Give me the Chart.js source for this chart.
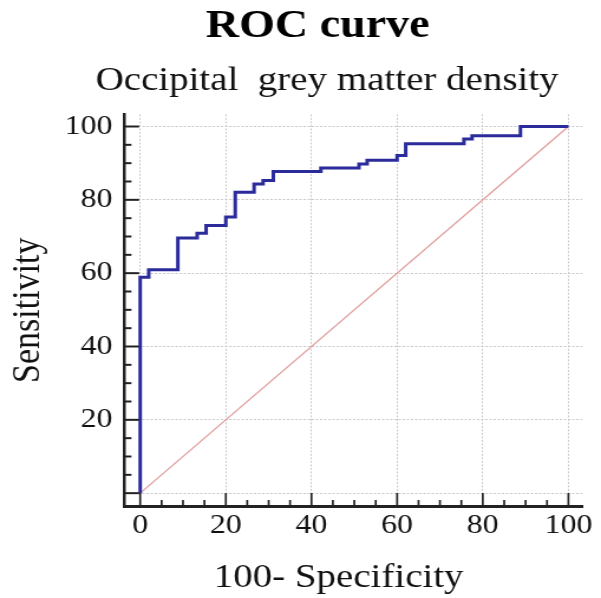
<!DOCTYPE html>
<html>
<head>
<meta charset="utf-8">
<script src="https://cdn.jsdelivr.net/npm/chart.js@4"></script>
<style>
  html, body { margin: 0; padding: 0; background: #fff; }
  #rocChart { display: block; }
</style>
</head>
<body>
<!-- the reference is a horizontally stretched picture, so the canvas is stretched too -->
<canvas id="rocChart" width="509" height="598" style="width: 601px; height: 598px;"></canvas>
<script>
// ROC curve data (100-Specificity vs Sensitivity)
const fpr = [0, 0, 2.0, 8.8, 13.3, 15.4, 20.0, 22.2, 26.6, 28.7, 31.1, 42.2, 51.1, 53.0, 60.0, 62.0, 75.6, 77.5, 88.8, 100];
const sens = [0, 58.9, 60.9, 69.6, 70.9, 73.0, 75.3, 82.1, 84.3, 85.3, 87.7, 88.7, 89.8, 90.8, 92.1, 95.3, 96.6, 97.5, 100, 100];

// reference (chance) line
const refX = [0, 100];
const refY = [0, 100];

// tick labels
const majorTicks = [0, 20, 40, 60, 80, 100];
const minorStep = 5;

const titleText = 'ROC curve';
const subtitleText = 'Occipital  grey matter density';
// trailing blanks nudge the centred axis title a little to the left, as in the reference
const xTitleText = '100- Specificity   ';

const FONT = "'Liberation Serif', 'Times New Roman', serif";

// Inward tick marks, every 5 units, longer on the labelled ones
const axisTicks = {
    id: 'axisTicks',
    afterDraw(chart) {
        const { ctx, chartArea, scales } = chart;
        ctx.save();
        ctx.strokeStyle = '#222';
        for (let v = 0; v <= 100; v += minorStep) {
            const major = majorTicks.includes(v);
            // x axis
            const px = scales.x.getPixelForValue(v);
            ctx.lineWidth = 1.7;
            ctx.beginPath();
            ctx.moveTo(px, chartArea.bottom);
            ctx.lineTo(px, chartArea.bottom - (major ? 13 : 6));
            ctx.stroke();
            // y axis
            const py = scales.y.getPixelForValue(v);
            ctx.lineWidth = 2;
            ctx.beginPath();
            ctx.moveTo(chartArea.left, py);
            ctx.lineTo(chartArea.left + (major ? 12.5 : 6), py);
            ctx.stroke();
        }
        ctx.restore();
    }
};

// The titles in the reference sit right of the canvas centre
const titleShift = {
    id: 'titleShift',
    afterLayout(chart) {
        chart.boxes.forEach(box => {
            if (box.position !== 'top' || !box.options || !box.options.text) return;
            const centre = box.options.text === titleText ? 269 : 277;
            const half = box.width / 2;
            box.left = centre - half;
            box.right = centre + half;
        });
    }
};

function setMajorTicks(axis) {
    axis.ticks = majorTicks.map(v => ({ value: v }));
}

const config = {
    type: 'scatter',
    data: {
        datasets: [
            {
                label: 'Reference',
                data: refX.map((x, i) => ({ x: x, y: refY[i] })),
                showLine: true,
                borderColor: '#e09a9a',
                borderWidth: 1.2,
                pointRadius: 0,
                order: 2
            },
            {
                label: 'ROC',
                data: fpr.map((x, i) => ({ x: x, y: sens[i] })),
                showLine: true,
                stepped: 'before',
                borderColor: '#2b2b9c',
                borderWidth: 3,
                pointRadius: 0,
                order: 1
            }
        ]
    },
    options: {
        responsive: false,
        devicePixelRatio: 1,
        animation: false,
        layout: {
            padding: { left: 2, right: 16, top: 0, bottom: 0 }
        },
        scales: {
            x: {
                type: 'linear',
                min: -3.7,
                max: 103.2,
                afterBuildTicks: setMajorTicks,
                grid: {
                    color: '#c9c9c9',
                    lineWidth: 1,
                    drawTicks: false
                },
                border: { display: true, color: '#222', width: 3, dash: [2, 1.5] },
                ticks: {
                    padding: 4,
                    color: '#111',
                    font: { family: FONT, size: 27 },
                    callback: v => v
                },
                title: {
                    display: true,
                    text: xTitleText,
                    color: '#111',
                    font: { family: FONT, size: 33 },
                    padding: { top: 12, bottom: 0 }
                }
            },
            y: {
                type: 'linear',
                min: -3.5,
                max: 103.3,
                afterBuildTicks: setMajorTicks,
                grid: {
                    color: '#c9c9c9',
                    lineWidth: 1,
                    drawTicks: false
                },
                border: { display: true, color: '#222', width: 2.5, dash: [2, 1.5] },
                ticks: {
                    padding: 10,
                    color: '#111',
                    font: { family: FONT, size: 27 },
                    callback: v => (v === 0 ? '' : v)
                },
                title: {
                    display: true,
                    text: 'Sensitivity',
                    color: '#111',
                    font: { family: FONT, size: 34 },
                    padding: { top: 2, bottom: 0 }
                }
            }
        },
        plugins: {
            legend: { display: false },
            tooltip: { enabled: false },
            title: {
                display: true,
                text: titleText,
                color: '#000',
                font: { family: FONT, size: 39, weight: 'bold' },
                padding: { top: 4, bottom: 5 }
            },
            subtitle: {
                display: true,
                text: subtitleText,
                color: '#111',
                font: { family: FONT, size: 33 },
                padding: { top: 6, bottom: 13 }
            }
        }
    },
    plugins: [axisTicks, titleShift]
};

try {
    new Chart(document.getElementById('rocChart'), config);
} catch (error) {
    console.error('Error creating ROC chart:', error);
}
</script>
</body>
</html>
